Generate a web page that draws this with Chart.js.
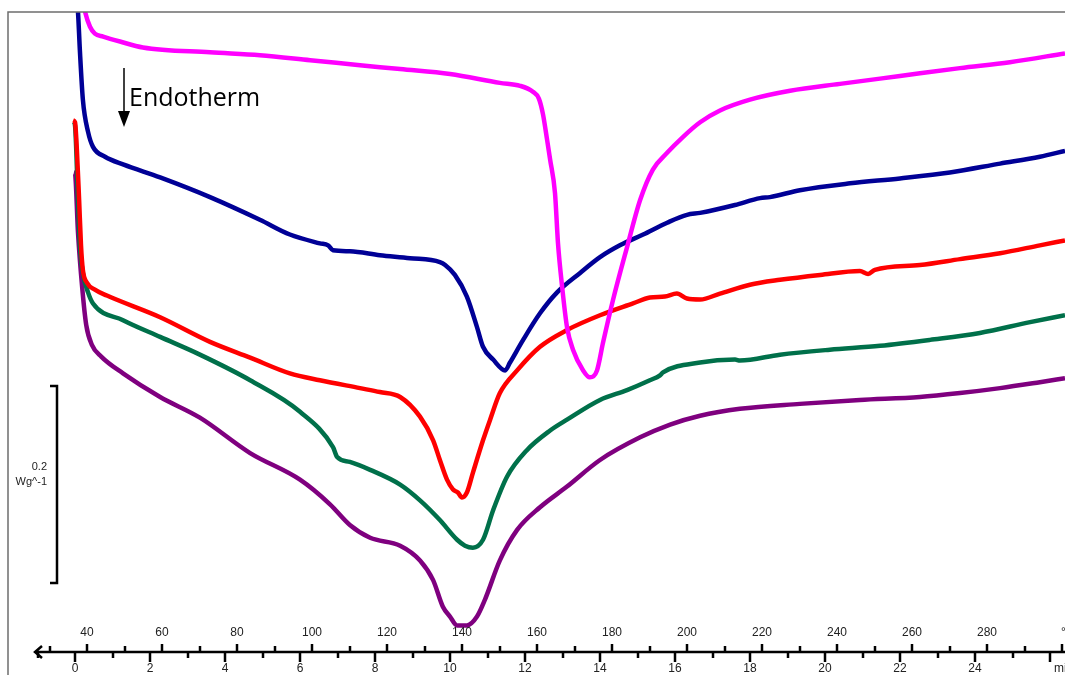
<!DOCTYPE html>
<html>
<head>
<meta charset="utf-8">
<script src="https://cdn.jsdelivr.net/npm/chart.js@4.4.1/dist/chart.umd.min.js"></script>
<style>
  html, body { margin: 0; padding: 0; background: #fff; }
  canvas { display: block; }
</style>
</head>
<body>
<canvas id="dsc" width="1065" height="675"></canvas>
<script>
// time in min, heat flow in mW/g (relative, shifted curves)
const magenta = [[0.21, 12], [0.27, 0], [0.4, -15], [0.53, -22], [0.75, -25], [1.2, -30], [1.81, -36], [3.6, -41], [4.93, -44], [6.27, -49], [7.6, -54], [8.67, -58], [10.0, -63], [11.33, -72], [11.87, -75], [12.21, -81], [12.37, -88], [12.48, -104], [12.59, -130], [12.67, -150], [12.8, -184], [12.88, -235], [12.99, -279], [13.12, -320], [13.28, -343], [13.55, -364], [13.73, -371], [13.92, -364], [14.08, -336], [14.35, -292], [14.72, -239], [15.07, -191], [15.41, -160], [15.79, -143], [16.21, -127], [16.67, -112], [17.2, -100], [18.0, -89], [19.07, -80], [20.4, -73], [22.0, -65], [23.6, -57], [24.93, -51], [26.4, -42]];
const navy = [[0.05, 12], [0.08, 0], [0.13, -39], [0.21, -89], [0.35, -122], [0.48, -137], [0.8, -147], [1.3, -155], [2.27, -168], [3.6, -188], [4.93, -211], [5.73, -226], [6.53, -235], [6.75, -237], [6.88, -242], [7.33, -243], [8.13, -247], [8.93, -250], [9.73, -254], [9.87, -257], [10.13, -267], [10.45, -289], [10.72, -320], [10.88, -340], [11.15, -353], [11.47, -364], [11.6, -356], [11.95, -333], [12.4, -306], [12.85, -285], [13.47, -265], [14.0, -249], [14.53, -237], [15.15, -226], [15.79, -214], [16.32, -206], [16.67, -204], [17.6, -196], [18.27, -189], [18.53, -188], [19.33, -181], [20.67, -174], [22.0, -169], [23.33, -163], [24.67, -154], [25.73, -147], [26.4, -141]];
const red = [[-0.05, -110], [0, -112], [0.05, -140], [0.11, -191], [0.16, -237], [0.21, -262], [0.32, -275], [0.53, -282], [0.85, -288], [2.27, -310], [3.6, -335], [4.67, -351], [5.73, -367], [6.53, -374], [7.6, -382], [8.13, -386], [8.67, -391], [9.2, -411], [9.55, -435], [9.73, -455], [9.92, -475], [10.08, -485], [10.21, -488], [10.32, -493], [10.45, -488], [10.61, -468], [10.88, -435], [11.07, -414], [11.33, -387], [11.79, -364], [12.4, -340], [13.12, -323], [14.0, -308], [14.88, -296], [15.33, -290], [15.73, -289], [16.05, -286], [16.32, -291], [16.67, -292], [17.2, -286], [18.0, -277], [18.8, -272], [19.87, -267], [20.93, -263], [21.15, -266], [21.33, -262], [22.53, -257], [23.6, -251], [24.67, -245], [25.73, -237], [26.4, -232]];
const green = [[-0.03, -112], [0, -115], [0.08, -191], [0.13, -237], [0.21, -265], [0.35, -285], [0.48, -296], [1.28, -313], [2.27, -330], [3.33, -348], [4.67, -374], [6.0, -406], [6.88, -442], [6.99, -452], [7.33, -457], [7.87, -465], [8.67, -480], [9.2, -496], [9.73, -516], [10.19, -536], [10.4, -542], [10.61, -544], [10.88, -536], [11.15, -506], [11.52, -472], [12.05, -445], [12.67, -425], [13.12, -414], [14.0, -394], [14.72, -384], [15.33, -374], [15.6, -369], [15.68, -366], [16.67, -356], [17.6, -353], [17.73, -354], [18.8, -348], [20.13, -343], [21.47, -339], [22.8, -333], [24.13, -326], [25.47, -315], [26.4, -308]];
const purple = [[-0.03, -163], [0, -164], [0.08, -224], [0.19, -279], [0.3, -318], [0.45, -338], [0.7, -350], [1.28, -367], [2.27, -391], [3.33, -412], [4.67, -448], [6.0, -475], [6.8, -500], [7.33, -521], [7.87, -534], [8.67, -542], [9.2, -557], [9.55, -577], [9.81, -604], [10.0, -614], [10.19, -623], [10.45, -623], [10.72, -614], [10.93, -597], [11.33, -557], [11.79, -526], [12.4, -503], [13.12, -482], [14.0, -455], [15.07, -432], [15.87, -419], [16.67, -410], [17.73, -403], [19.33, -398], [20.93, -394], [22.53, -391], [23.6, -387], [24.67, -382], [25.73, -376], [26.4, -372]];

const timeTicks = [0, 2, 4, 6, 8, 10, 12, 14, 16, 18, 20, 22, 24];
const tempTicks = [40, 60, 80, 100, 120, 140, 160, 180, 200, 220, 240, 260, 280];
const startTemp = 36.8;   // °C at t = 0
const heatRate = 10;      // °C/min
const scaleBar = [-380, -580]; // 0.2 W/g

const series = [
  { label: 'Sample 1', data: magenta, color: '#ff00ff' },
  { label: 'Sample 2', data: navy, color: '#000096' },
  { label: 'Sample 3', data: red, color: '#ff0000' },
  { label: 'Sample 4', data: green, color: '#00704a' },
  { label: 'Sample 5', data: purple, color: '#7f007f' }
];

const decor = {
  id: 'decor',
  afterDraw(chart) {
    const ctx = chart.ctx;
    const x = chart.scales.x;
    const y = chart.scales.y;
    const axisY = chart.chartArea.bottom;
    ctx.save();

    // frame
    ctx.strokeStyle = '#6e6e6e';
    ctx.lineWidth = 1.5;
    ctx.beginPath();
    ctx.moveTo(8, 675);
    ctx.lineTo(8, 12);
    ctx.lineTo(1065, 12);
    ctx.stroke();

    // axis line + arrow
    ctx.strokeStyle = '#000';
    ctx.lineWidth = 2.5;
    ctx.beginPath();
    ctx.moveTo(35, axisY);
    ctx.lineTo(1065, axisY);
    ctx.moveTo(42, axisY - 6);
    ctx.lineTo(35, axisY);
    ctx.lineTo(42, axisY + 6);
    ctx.stroke();

    // time ticks (below)
    for (let t = -1; t <= 26; t++) {
      const px = Math.round(x.getPixelForValue(t));
      ctx.beginPath();
      ctx.moveTo(px, axisY);
      ctx.lineTo(px, axisY + (t % 2 === 0 ? 10 : 6));
      ctx.stroke();
    }
    // temperature ticks (above)
    for (let T = 30; T <= 300; T += 10) {
      const px = Math.round(x.getPixelForValue((T - startTemp) / heatRate));
      ctx.beginPath();
      ctx.moveTo(px, axisY);
      ctx.lineTo(px, axisY - (T % 20 === 0 ? 8 : 6));
      ctx.stroke();
    }

    ctx.fillStyle = '#222';
    ctx.font = '12px "Liberation Sans", Arial, sans-serif';
    ctx.textBaseline = 'middle';
    ctx.textAlign = 'center';
    timeTicks.forEach(t => ctx.fillText(String(t), x.getPixelForValue(t), axisY + 17));
    tempTicks.forEach(T => ctx.fillText(String(T), x.getPixelForValue((T - startTemp) / heatRate), axisY - 19));
    ctx.textAlign = 'left';
    ctx.fillText('min', x.getPixelForValue(26) + 4, axisY + 17);
    ctx.fillText('°C', x.getPixelForValue((300 - startTemp) / heatRate) - 1, axisY - 19);

    // scale bar
    const top = Math.round(y.getPixelForValue(scaleBar[0]));
    const bot = Math.round(y.getPixelForValue(scaleBar[1]));
    ctx.lineWidth = 2.5;
    ctx.strokeStyle = '#000';
    ctx.beginPath();
    ctx.moveTo(50, top);
    ctx.lineTo(57, top);
    ctx.lineTo(57, bot);
    ctx.lineTo(50, bot);
    ctx.stroke();
    ctx.font = '11px "Liberation Sans", Arial, sans-serif';
    ctx.textAlign = 'right';
    ctx.fillStyle = '#222';
    ctx.fillText('0.2', 47, top + 81);
    ctx.fillText('Wg^-1', 47, top + 96);

    // endotherm arrow
    ctx.lineWidth = 1.5;
    ctx.beginPath();
    ctx.moveTo(124, 68);
    ctx.lineTo(124, 112);
    ctx.stroke();
    ctx.fillStyle = '#000';
    ctx.beginPath();
    ctx.moveTo(118, 111);
    ctx.lineTo(130, 111);
    ctx.lineTo(124, 127);
    ctx.closePath();
    ctx.fill();
    ctx.font = '25px "Open Sans", sans-serif';
    ctx.textAlign = 'left';
    ctx.textBaseline = 'alphabetic';
    ctx.fillText('Endotherm', 129, 106);

    ctx.restore();
  }
};

new Chart(document.getElementById('dsc'), {
  type: 'line',
  data: {
    datasets: series.map(s => ({
      label: s.label,
      data: s.data.map(p => ({ x: p[0], y: p[1] })),
      borderColor: s.color,
      backgroundColor: s.color,
      borderWidth: 4.5,
      pointRadius: 0,
      cubicInterpolationMode: 'monotone',
      fill: false
    }))
  },
  options: {
    responsive: false,
    animation: false,
    layout: { padding: { left: 8, top: 12, right: 0, bottom: 23 } },
    plugins: { legend: { display: false }, tooltip: { enabled: false } },
    scales: {
      x: { type: 'linear', display: false, min: -67 / 37.5, max: 26.4 },
      y: { type: 'linear', display: false, min: -650, max: 0 }
    }
  },
  plugins: [decor]
});
</script>
</body>
</html>
